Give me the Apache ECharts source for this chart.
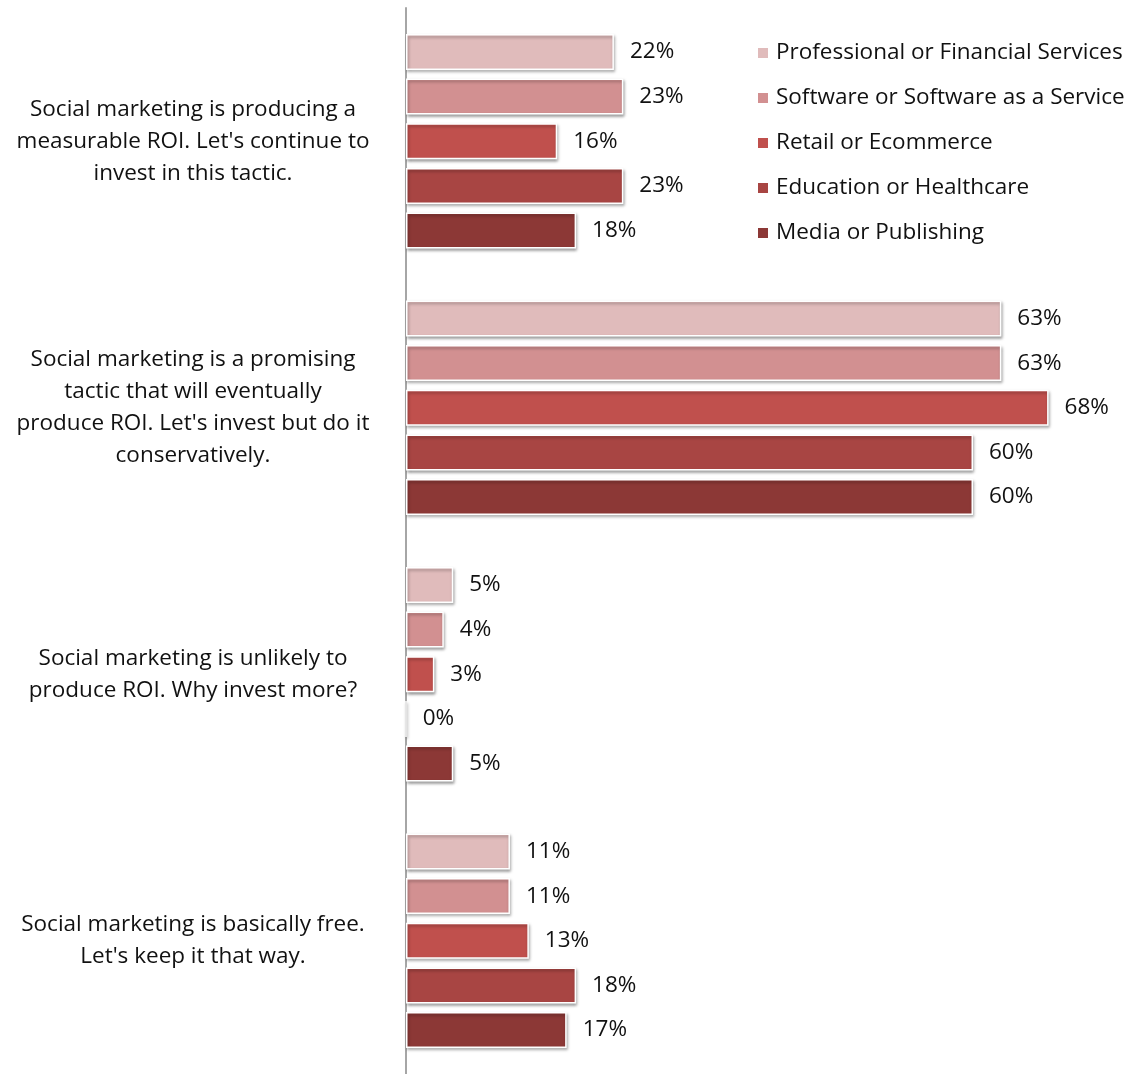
<!DOCTYPE html>
<html>
<head>
<meta charset="utf-8">
<title>Social marketing ROI by industry</title>
<script src="https://cdn.jsdelivr.net/npm/echarts@6/dist/echarts.min.js"></script>
<style>
  html, body { margin: 0; padding: 0; background: #ffffff; }
  #chart { width: 1144px; height: 1074px; }
</style>
</head>
<body>
<div id="chart"></div>
<script>
// Attitude statements (one category per group of bars)
const categories = [
  "Social marketing is producing a\nmeasurable ROI. Let's continue to\ninvest in this tactic.",
  "Social marketing is a promising\ntactic that will eventually\nproduce ROI. Let's invest but do it\nconservatively.",
  "Social marketing is unlikely to\nproduce ROI. Why invest more?",
  "Social marketing is basically free.\nLet's keep it that way."
];

// Industries, in legend order
const industries = [
  "Professional or Financial Services",
  "Software or Software as a Service",
  "Retail or Ecommerce",
  "Education or Healthcare",
  "Media or Publishing"
];

// Share of respondents (%) per statement, one array per industry
const professional = [22, 63, 5, 11];
const software     = [23, 63, 4, 11];
const retail       = [16, 68, 3, 13];
const education    = [23, 60, 0, 18];
const media        = [18, 60, 5, 17];

const seriesValues = [professional, software, retail, education, media];
const colors = ["#E0BBBB", "#D29091", "#C0504D", "#A84543", "#8C3836"];

const FONT = "'Open Sans', 'Noto Sans', 'Liberation Sans', sans-serif";

const chart = echarts.init(document.getElementById("chart"), null, { renderer: "canvas" });

const series = industries.map((name, i) => ({
  name: name,
  type: "bar",
  data: seriesValues[i],
  barWidth: 36,
  barGap: "24%",
  itemStyle: {
    color: colors[i],
    borderColor: "#ffffff",
    borderWidth: 1.5,
    shadowColor: "rgba(0,0,0,0.35)",
    shadowBlur: 3,
    shadowOffsetX: 1,
    shadowOffsetY: 2
  },
  label: {
    show: true,
    position: "right",
    distance: 16,
    formatter: "{c}%",
    color: "#111111",
    fontFamily: FONT,
    fontSize: 22.5
  },
  emphasis: { disabled: true }
}));

chart.setOption({
  animation: false,
  backgroundColor: "#ffffff",
  color: colors,
  grid: { left: 406, right: 76.5, top: 8, bottom: 0, containLabel: false },
  legend: {
    orient: "vertical",
    left: 751,
    top: 35,
    itemWidth: 12,
    itemHeight: 12,
    itemGap: 19,
    icon: "rect",
    data: industries,
    textStyle: { fontFamily: FONT, fontSize: 22.5, color: "#111111", padding: [0, 0, 0, 2], lineHeight: 26 }
  },
  xAxis: {
    type: "value",
    min: 0,
    max: 70,
    show: false
  },
  yAxis: {
    type: "category",
    data: categories,
    inverse: true,
    axisLine: { show: true, lineStyle: { color: "#a6a6a6", width: 2 } },
    axisTick: { show: false },
    axisLabel: {
      margin: 213,
      align: "center",
      fontFamily: FONT,
      fontSize: 22.5,
      lineHeight: 32,
      color: "#111111"
    }
  },
  series: series
});
</script>
</body>
</html>
